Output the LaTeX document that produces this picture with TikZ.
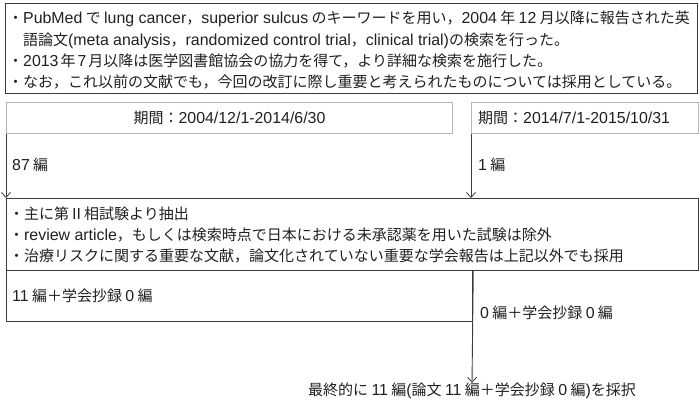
\documentclass[tikz,border=0pt]{standalone}
\usepackage{fontspec}
\setmainfont{Noto Sans CJK JP}
\newfontfamily\latfont{Liberation Sans}[Scale=1.06]
\newcommand\latn[1]{{\latfont #1}}
\usetikzlibrary{arrows.meta}
\definecolor{linec}{HTML}{3C3A3A}
\definecolor{lightc}{HTML}{B5B5B5}
\definecolor{textc}{HTML}{231F20}
\begin{document}
\begin{tikzpicture}[x=1pt,y=-1pt,
  box/.style={draw=linec, line width=1.3pt, inner sep=0pt, anchor=north west},
  pbox/.style={draw=lightc, line width=1pt, inner sep=0pt, anchor=north west},
  txt/.style={anchor=west, inner sep=0pt, text height=12.5pt, text depth=1.5pt,
    font=\fontsize{15}{18}\selectfont, text=textc},
  arr/.style={draw=linec, line width=0.9pt, -{Straight Barb[length=5pt,width=9pt,line width=0.8pt]}}]
\useasboundingbox (0,0) rectangle (700,400);
% top box
\node[box, minimum width=692pt, minimum height=90pt] (top) at (5,3) {};
\node[txt] (t1) at (8,18) {・\latn{PubMed} で \latn{lung cancer}，\latn{superior sulcus} のキーワードを用い，\latn{2004} 年 \latn{12} 月以降に報告された英};
\node[txt] (t2) at (23,40) {語論文\latn{(meta analysis}，\latn{randomized control trial}，\latn{clinical trial)}の検索を行った。};
\node[txt] (t3) at (8,61) {・\latn{2013}\hspace{2pt}年\hspace{2pt}\latn{7}\hspace{2pt}月以降は医学図書館協会の協力を得て，より詳細な検索を施行した。};
\node[txt] (t4) at (8,82) {・なお，これ以前の文献でも，今回の改訂に際し重要と考えられたものについては採用としている。};
% period boxes
\node[pbox, minimum width=446pt, minimum height=31pt] (p1) at (6,102) {};
\node[txt, anchor=center] (p1t) at (p1.center) {期間：\latn{2004/12/1-2014/6/30}};
\node[pbox, minimum width=227pt, minimum height=31pt] (p2) at (471,102) {};
\node[txt] (p2t) at (478,118) {期間：\latn{2014/7/1-2015/10/31}};
\node[txt] (n87) at (12,165) {\latn{87} 編};
\node[txt] (n1) at (478,165) {\latn{1} 編};
% criteria box
\node[box, minimum width=692pt, minimum height=72pt] (crit) at (6,198) {};
\node[txt] (c1) at (9,214) {・主に第Ⅱ相試験より抽出};
\node[txt] (c2) at (9,235) {・\latn{review article}，もしくは検索時点で日本における未承認薬を用いた試験は除外};
\node[txt] (c3) at (9,256) {・治療リスクに関する重要な文献，論文化されていない重要な学会報告は上記以外でも採用};
% result box
\node[box, minimum width=466pt, minimum height=51pt] (res) at (6,270) {};
\node[txt] (r1) at (12,296) {\latn{11} 編＋学会抄録 \latn{0} 編};
\node[txt] (r2) at (480,313) {\latn{0} 編＋学会抄録 \latn{0} 編};
\node[txt, anchor=center] (final) at (472,390) {最終的に \latn{11} 編\latn{(}論文 \latn{11} 編＋学会抄録 \latn{0} 編\latn{)}を採択};
% arrows
\draw[arr] (p1.south west) -- (p1.south west |- crit.north);
\draw[arr] (p2.south west) -- (p2.south west |- crit.north);
\draw[arr] (res.north east) -- (final.north);
\end{tikzpicture}
\end{document}
